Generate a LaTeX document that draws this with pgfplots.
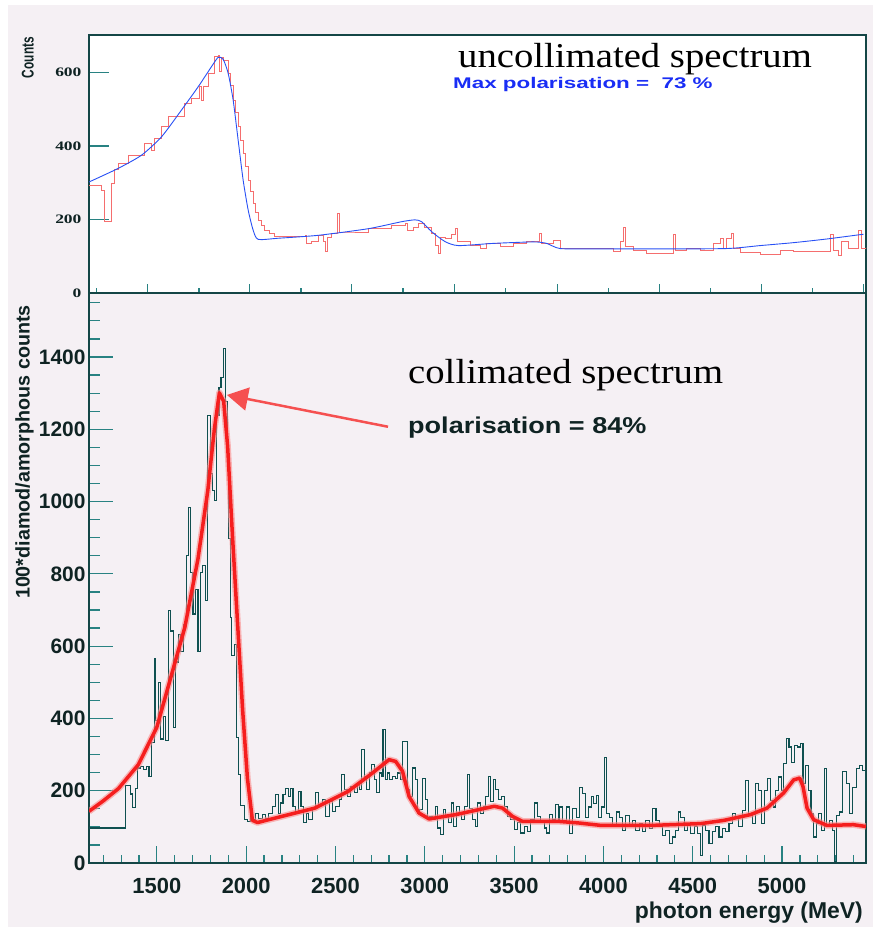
\documentclass[border=0pt]{standalone}
\usepackage{fontspec}
\setmainfont{Liberation Serif}
\newfontfamily\hsans{Liberation Sans}
\usepackage{graphicx}
\usepackage{pgfplots}
\pgfplotsset{compat=1.18}
\usetikzlibrary{arrows.meta}
\definecolor{bgpink}{RGB}{245,240,244}
\definecolor{framecol}{RGB}{20,70,70}
\definecolor{tickcol}{RGB}{40,130,130}
\definecolor{labcol}{RGB}{15,35,35}
\definecolor{datateal}{RGB}{15,80,80}
\definecolor{fitred}{RGB}{245,30,30}
\definecolor{fithalo}{RGB}{250,140,140}
\definecolor{topred}{RGB}{245,110,110}
\definecolor{topblue}{RGB}{40,80,245}
\definecolor{txtblue}{RGB}{25,45,245}
\definecolor{arrowred}{RGB}{245,80,80}
\begin{document}
\begin{tikzpicture}
\fill[white] (0bp,0bp) rectangle (873bp,-929bp);
\fill[bgpink] (8bp,-5bp) rectangle (873bp,-927bp);
% ---------------- top panel ----------------
\begin{axis}[
  at={(89bp,-293bp)}, anchor=south west, scale only axis,
  width=777bp, height=258bp,
  xmin=1120, xmax=5470, ymin=0, ymax=702,
  axis background/.style={fill=white},
  axis line style={draw=framecol, line width=1.1bp},
  xtick={1450,2021,2592,3164,3741,4312,4884,5455},
  minor xtick={1164,1736,2307,2878,3452,4026,4598,5170},
  xticklabels={},
  ytick={0,200,400,600},
  xtick pos=bottom, ytick pos=left, tick align=inside,
  tick style={draw=tickcol, line width=1.1bp},
  xtick style={/pgfplots/major tick length=9bp,/pgfplots/minor tick length=5bp},
  ytick style={/pgfplots/major tick length=20bp},
  scaled ticks=false,
  /pgf/number format/1000 sep={},
  /pgf/number format/assume math mode=true,
  yticklabel={\scalebox{1.35}[1]{\pgfmathprintnumber{\tick}}},
  yticklabel style={font=\bfseries\fontsize{13}{14}\selectfont, text=labcol, xshift=-4bp},
]
\addplot[topred, line width=0.9bp, const plot] coordinates {
(1120,294) (1190,280) (1209,194) (1246,298) (1260,335) (1283,353) (1339,375)
(1433,407) (1470,389) (1489,421) (1526,453) (1563,480) (1657,516) (1694,530)
(1741,561) (1750,525) (1760,561) (1787,598) (1825,643) (1843,647) (1853,602)
(1862,640) (1871,634) (1899,598) (1913,565) (1927,525) (1941,490) (1955,453)
(1969,416) (1983,380) (1997,343) (2011,307) (2025,275) (2039,244) (2053,220)
(2067,198) (2086,183) (2105,171) (2133,162) (2161,155) (2254,153) (2329,157)
(2340,135) (2366,140) (2404,157) (2430,140) (2441,112) (2455,150) (2478,162)
(2510,217) (2522,166) (2534,166) (2684,175) (2814,184) (2889,189) (2900,171)
(2935,178) (2964,189) (3000,178) (3038,162) (3060,130) (3076,107) (3090,150)
(3113,148) (3150,158) (3169,175) (3185,140) (3197,139) (3253,130) (3309,121)
(3346,135) (3421,126) (3496,135) (3570,139) (3640,162) (3655,135) (3682,135)
(3720,144) (3757,121) (3850,120) (3981,121) (4056,112) (4093,139) (4110,178)
(4122,126) (4131,126) (4168,117) (4243,108) (4336,108) (4392,160) (4405,117)
(4467,121) (4541,117) (4616,135) (4653,149) (4672,121) (4691,149) (4719,162)
(4730,121) (4765,110) (4877,106) (4989,117) (5064,112) (5251,114) (5269,158)
(5285,117) (5316,101) (5335,139) (5372,121) (5428,171) (5447,121) (5470,126)
};
\addplot[topblue, line width=0.9bp, smooth, tension=0.4] coordinates {
(1120,302) (1283,339) (1414,375) (1526,425) (1638,498) (1731,561) (1806,616)
(1843,641) (1871,636) (1899,598) (1927,525) (1955,416) (1983,307) (2011,226)
(2039,171) (2067,146) (2179,149) (2404,157) (2684,175) (2870,194) (2945,199)
(2982,194) (3038,167) (3113,140) (3188,129) (3384,135) (3608,139) (3682,135)
(3757,121) (3944,120) (4317,120) (4691,121) (4877,129) (5064,137) (5251,147)
(5456,160)
};
\end{axis}
% ---------------- bottom panel ----------------
\begin{axis}[
  at={(89bp,-863bp)}, anchor=south west, scale only axis,
  width=777bp, height=570bp,
  xmin=1120, xmax=5470, ymin=0, ymax=1577,
  axis line style={draw=framecol, line width=1.2bp},
  xtick={1500,2000,...,5000},
  minor xtick={1200,1300,...,5400},
  ytick={0,200,...,1400},
  minor ytick={50,100,...,1550},
  xtick pos=bottom, ytick pos=left, tick align=inside,
  tick style={draw=tickcol, line width=1.2bp},
  xtick style={/pgfplots/major tick length=17bp,/pgfplots/minor tick length=8bp},
  ytick style={/pgfplots/major tick length=24bp,/pgfplots/minor tick length=11bp},
  scaled ticks=false,
  /pgf/number format/1000 sep={},
  /pgf/number format/assume math mode=true,
  yticklabel style={font=\hsans\bfseries\fontsize{21}{24}\selectfont, text=labcol},
  xticklabel style={font=\hsans\bfseries\fontsize{22}{24}\selectfont, text=labcol, yshift=-12bp},
]
\addplot[datateal, line width=1.1bp, const plot] coordinates {
(1120,97) (1326,215) (1350,191) (1363,154) (1378,206) (1393,263) (1406,267)
(1424,258) (1443,267) (1456,239) (1470,334) (1485,566) (1494,395) (1507,500)
(1522,343) (1535,405) (1548,338) (1563,699) (1578,642) (1591,376) (1604,556)
(1619,632) (1633,585) (1648,661) (1665,850) (1678,983) (1689,803) (1702,689)
(1715,756) (1730,585) (1743,803) (1757,822) (1770,727) (1785,1239) (1798,1078)
(1809,1030) (1822,1002) (1835,1239) (1848,1315) (1859,1343) (1872,1424)
(1883,1277) (1893,1154) (1902,898) (1911,680) (1920,575) (1933,604) (1944,348)
(1956,244) (1970,158) (1989,120) (2007,116) (2026,139) (2034,120) (2052,138)
(2071,124) (2090,134) (2108,124) (2127,138) (2146,157) (2164,189) (2179,138)
(2193,166) (2206,189) (2221,207) (2235,184) (2249,207) (2262,157) (2277,138)
(2292,198) (2307,157) (2321,111) (2336,138) (2351,120) (2370,152) (2389,194)
(2407,161) (2426,175) (2445,129) (2464,171) (2482,143) (2501,157) (2520,175)
(2535,244) (2549,203) (2566,184) (2585,212) (2604,194) (2622,221) (2635,203)
(2647,313) (2660,240) (2673,203) (2688,249) (2703,272) (2716,230) (2729,194)
(2744,249) (2759,240) (2766,369) (2778,230) (2791,249) (2804,230) (2819,240)
(2834,235) (2849,249) (2863,230) (2875,337) (2890,337) (2903,203) (2916,184)
(2931,263) (2946,230) (2959,138) (2972,148) (2987,235) (3002,175) (3015,120)
(3028,129) (3043,120) (3058,157) (3073,97) (3088,78) (3103,148) (3118,129)
(3133,111) (3148,166) (3163,101) (3177,157) (3192,138) (3207,120) (3222,157)
(3237,244) (3252,152) (3267,120) (3282,101) (3297,166) (3312,138) (3327,157)
(3342,184) (3357,240) (3370,171) (3383,230) (3398,203) (3413,175) (3428,184)
(3445,157) (3463,129) (3482,120) (3501,92) (3519,111) (3538,83) (3557,101)
(3576,88) (3594,120) (3613,166) (3632,129) (3650,111) (3669,97) (3682,83)
(3697,134) (3716,120) (3731,161) (3746,120) (3755,155) (3773,118) (3792,155)
(3810,81) (3829,150) (3848,127) (3866,210) (3885,192) (3900,127) (3916,155)
(3931,183) (3946,164) (3959,187) (3972,127) (3987,155) (4005,293) (4019,136)
(4033,127) (4052,100) (4071,141) (4089,127) (4108,90) (4126,132) (4145,100)
(4164,118) (4182,90) (4201,109) (4219,86) (4238,118) (4257,95) (4275,150)
(4294,118) (4312,100) (4331,77) (4349,90) (4368,53) (4387,72) (4405,90)
(4418,141) (4433,127) (4452,90) (4470,109) (4489,81) (4508,100) (4526,81)
(4541,21) (4556,104) (4573,90) (4591,53) (4610,86) (4628,100) (4647,72)
(4666,95) (4684,86) (4703,109) (4721,136) (4740,123) (4758,100) (4777,146)
(4796,229) (4814,136) (4833,109) (4851,219) (4870,201) (4885,109) (4902,201)
(4916,233) (4935,173) (4950,155) (4965,201) (4982,238) (4996,201) (5009,275)
(5024,344) (5039,321) (5054,279) (5069,326) (5084,321) (5102,330) (5117,219)
(5132,270) (5147,201) (5162,136) (5177,72) (5192,109) (5206,136) (5221,90)
(5236,261) (5251,100) (5266,118) (5281,90) (5292,3) (5307,132) (5322,141)
(5340,252) (5359,219) (5377,136) (5396,210) (5415,261) (5433,270) (5452,256)
(5465,173) (5470,173)
};
\addplot[fithalo, line width=6.5bp, opacity=0.6, line join=round] coordinates {
(1120,143) (1200,172) (1285,206) (1396,272) (1500,376) (1581,519) (1656,651)
(1730,841) (1785,1030) (1822,1201) (1850,1301) (1874,1277) (1896,1154)
(1924,898) (1952,661) (1980,424) (2007,234) (2035,118) (2063,112) (2200,129)
(2385,152) (2570,198) (2707,249) (2800,286) (2837,281) (2875,254) (2912,184)
(2968,138) (3024,122) (3174,134) (3305,148) (3389,157) (3435,152) (3491,129)
(3548,115) (3753,115) (3857,111) (3987,104) (4266,104) (4545,109) (4675,118)
(4824,134) (4916,152) (5009,194) (5065,230) (5099,235) (5117,212) (5140,152)
(5177,120) (5251,104) (5400,106) (5470,101)
};
\addplot[fitred, line width=3.5bp, line join=round] coordinates {
(1120,143) (1200,172) (1285,206) (1396,272) (1500,376) (1581,519) (1656,651)
(1730,841) (1785,1030) (1822,1201) (1850,1301) (1874,1277) (1896,1154)
(1924,898) (1952,661) (1980,424) (2007,234) (2035,118) (2063,112) (2200,129)
(2385,152) (2570,198) (2707,249) (2800,286) (2837,281) (2875,254) (2912,184)
(2968,138) (3024,122) (3174,134) (3305,148) (3389,157) (3435,152) (3491,129)
(3548,115) (3753,115) (3857,111) (3987,104) (4266,104) (4545,109) (4675,118)
(4824,134) (4916,152) (5009,194) (5065,230) (5099,235) (5117,212) (5140,152)
(5177,120) (5251,104) (5400,106) (5470,101)
};
\draw[arrowred, line width=2.5bp, -{Triangle[length=21bp,width=23bp]}]
  (axis cs:2794,1207) -- (axis cs:1892,1295);
\end{axis}
% ---------------- texts ----------------
\node[anchor=base west, inner sep=0] at (458bp,-67bp)
  {\scalebox{1.11}[1]{\fontsize{35}{40}\selectfont uncollimated spectrum}};
\node[anchor=base west, inner sep=0, text=txtblue] at (453bp,-88bp)
  {\scalebox{1.45}[1]{\hsans\bfseries\fontsize{15.5}{18}\selectfont Max polarisation =\ \ 73 \%}};
\node[anchor=base west, inner sep=0] at (408bp,-383bp)
  {\scalebox{1.11}[1]{\fontsize{35}{40}\selectfont collimated spectrum}};
\node[anchor=base west, inner sep=0, text=labcol] at (408bp,-433bp)
  {\scalebox{1.18}[1]{\hsans\bfseries\fontsize{23}{26}\selectfont polarisation = 84\%}};
\node[rotate=90, anchor=south east, inner sep=0, text=labcol] at (34bp,-37bp)
  {\scalebox{0.7}[1]{\hsans\bfseries\fontsize{17}{19}\selectfont Counts}};
\node[rotate=90, anchor=south east, inner sep=0, text=labcol] at (34bp,-305bp)
  {\hsans\bfseries\fontsize{19.8}{22}\selectfont 100*diamod/amorphous counts};
\node[anchor=base east, inner sep=0, text=labcol] at (863bp,-918bp)
  {\hsans\bfseries\fontsize{23}{26}\selectfont photon energy (MeV)};
\end{tikzpicture}
\end{document}
